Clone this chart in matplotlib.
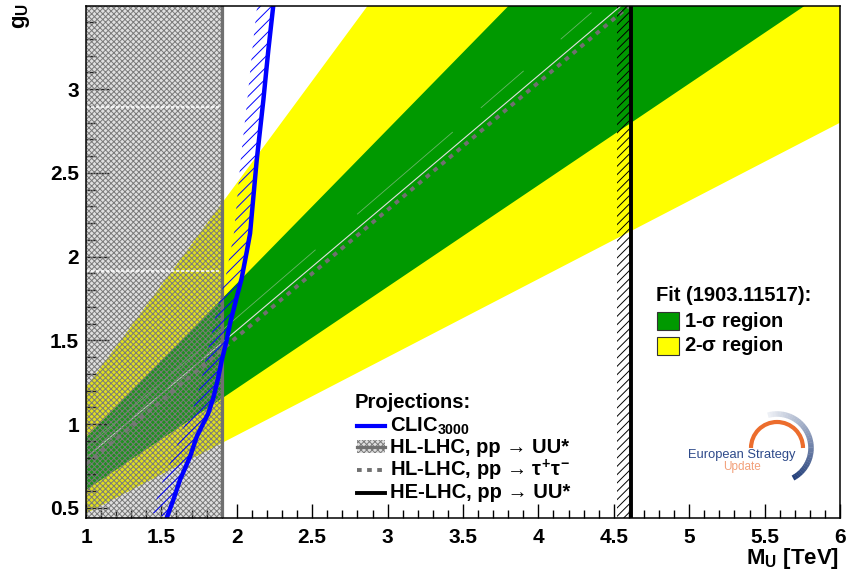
import matplotlib.pyplot as plt
import numpy as np
from matplotlib.patches import Rectangle, Polygon, Arc
from matplotlib.lines import Line2D
from matplotlib.ticker import MultipleLocator, FuncFormatter

plt.rcParams['font.family'] = ['Liberation Sans', 'DejaVu Sans']
plt.rcParams['font.weight'] = 'bold'
plt.rcParams['mathtext.fontset'] = 'custom'
plt.rcParams['mathtext.rm'] = 'Liberation Sans'
plt.rcParams['mathtext.it'] = 'Liberation Sans'
plt.rcParams['mathtext.bf'] = 'Liberation Sans:bold'
plt.rcParams['hatch.linewidth'] = 0.7

# fit bands (g_U at both ends of the mass range, straight lines)
mass_ends = [1.0, 6.0]
sigma2_low = [0.467, 2.80]
sigma1_low = [0.607, 3.64]
sigma1_high = [0.92, 5.52]
sigma2_high = [1.22, 7.32]

# HL-LHC pp -> tau tau projection
tautau_mass = [1.0, 6.0]
tautau_g = [0.76, 4.56]

# faint light lines inside the 1-sigma band
light_a_mass = [1.0, 4.55]
light_a_g = [0.80, 3.50]
light_b_segments = [(1.0, 0.86, 2.52, 2.04), (2.8, 2.255, 3.43, 2.743),
                    (3.62, 2.89, 3.9, 3.108), (4.15, 3.30, 4.35, 3.456)]

# CLIC 3000 reach
clic_mass = [1.535, 1.579, 1.623, 1.690, 1.734, 1.775, 1.811, 1.845, 1.875,
             1.900, 1.930, 1.955, 2.000, 2.032, 2.066, 2.088, 2.132, 2.176,
             2.209, 2.242]
clic_g = [0.44, 0.548, 0.667, 0.806, 0.925, 1.00, 1.065, 1.16, 1.27,
          1.38, 1.49, 1.60, 1.76, 1.87, 2.03, 2.139, 2.576, 2.934,
          3.233, 3.50]

hl_uu_limit = 1.90
he_uu_limit = 4.614
artifact_g = [2.895, 1.916]

W, H = 851, 585


def fx(px):
    return px / W


def fy(py):
    return 1 - py / H


fig = plt.figure(figsize=(W / 100, H / 100), dpi=100)
ax = fig.add_axes([fx(86), fy(518), (840 - 86) / W, (518 - 6) / H])
ax.set_xlim(1, 6)
ax.set_ylim(0.44, 3.497)

m = np.array(mass_ends)
ax.fill_between(m, sigma2_low, sigma2_high, color='#ffff00', lw=0, zorder=1)
ax.fill_between(m, sigma1_low, sigma1_high, color='#009900', lw=0, zorder=1.5)

ax.plot(light_a_mass, light_a_g, color='#e0e0e0', lw=0.8, zorder=2)
for m0, g0, m1, g1 in light_b_segments:
    ax.plot([m0, m1], [g0, g1], color='#d0d0d0', lw=0.6, alpha=0.5, zorder=2)

ax.plot(tautau_mass, tautau_g, color='#707070', lw=2.8,
        linestyle=(0, (1.2, 1.4)), zorder=3)

# HL-LHC UU* excluded region
gray_face = (0.5, 0.5, 0.5, 0.25)
ax.axvspan(1, hl_uu_limit, facecolor=gray_face, edgecolor='#7a7a7a',
           hatch='xxxxxx', lw=0, zorder=4)
ax.hlines(artifact_g, 1, hl_uu_limit - 0.02, colors='white', lw=1.2,
          linestyles=(0, (2, 1)), zorder=4.5)
ax.axvline(hl_uu_limit, color='#707070', lw=2.3, zorder=5)

# HE-LHC UU*
ax.axvspan(he_uu_limit - 0.093, he_uu_limit, facecolor='none',
           edgecolor='black', hatch='////', lw=0, zorder=5)
ax.axvline(he_uu_limit, color='black', lw=2.8, zorder=6)

# CLIC hatched side band
pts = ax.transData.transform(np.column_stack([clic_mass, clic_g]))
tang = np.gradient(pts, axis=0)
tang /= np.linalg.norm(tang, axis=1)[:, None]
normal = np.column_stack([-tang[:, 1], tang[:, 0]])
off = pts + normal * 16
poly = ax.transData.inverted().transform(np.vstack([pts, off[::-1]]))
ax.add_patch(Polygon(poly, closed=True, facecolor='none', edgecolor='#0000ff',
                     lw=0, hatch='///', zorder=7))
ax.plot(clic_mass, clic_g, color='#0000ff', lw=3.2, zorder=8)

# axes styling
fmt = FuncFormatter(lambda v, p: f'{v:g}')
ax.xaxis.set_major_locator(MultipleLocator(0.5))
ax.xaxis.set_minor_locator(MultipleLocator(0.1))
ax.yaxis.set_major_locator(MultipleLocator(0.5))
ax.yaxis.set_minor_locator(MultipleLocator(0.1))
ax.xaxis.set_major_formatter(fmt)
ax.yaxis.set_major_formatter(fmt)
ax.tick_params(which='both', direction='in', top=False, right=False,
               width=1, labelsize=15)
ax.tick_params(axis='x', which='major', length=10, pad=7)
ax.tick_params(axis='x', which='minor', length=5.5)
ax.tick_params(axis='y', which='major', length=16.5, pad=5)
ax.tick_params(axis='y', which='minor', length=7.5)
for s in ax.spines.values():
    s.set_linewidth(1.1)
    s.set_zorder(10)

fig.text(fx(22), fy(3), r'g$_\mathbf{U}$', rotation=90, ha='center',
         va='top', fontsize=16)
fig.text(fx(839), fy(546), r'M$_\mathbf{U}$ [TeV]', ha='right', va='top',
         fontsize=16)

# projections legend
lx0, lx1, tx = 357, 385, 390
fs = 14.5
fig.text(fx(355), fy(408), 'Projections:', fontsize=fs, va='baseline')
fig.add_artist(Line2D([fx(lx0), fx(lx1)], [fy(426), fy(426)],
                      color='#0000ff', lw=3, transform=fig.transFigure))
fig.text(fx(tx), fy(432), r'CLIC$_\mathbf{3000}$', fontsize=fs,
         va='baseline')
fig.add_artist(Rectangle((fx(lx0), fy(453)), (lx1 - lx0) / W, 13 / H,
                         facecolor=gray_face, edgecolor='#7a7a7a',
                         lw=0, hatch='xxxxxx', transform=fig.transFigure))
fig.add_artist(Line2D([fx(lx0), fx(lx1)], [fy(446.5), fy(446.5)],
                      color='#707070', lw=2.3, transform=fig.transFigure))
fig.text(fx(tx), fy(453), 'HL-LHC, pp \u2192 UU*', fontsize=fs,
         va='baseline')
fig.add_artist(Line2D([fx(lx0), fx(lx1)], [fy(470), fy(470)],
                      color='#707070', lw=2.8, linestyle=(0, (1.2, 1.4)),
                      transform=fig.transFigure))
fig.text(fx(tx), fy(476), 'HL-LHC, pp \u2192 $\\tau^{+}\\tau^{-}$',
         fontsize=fs, va='baseline')
fig.add_artist(Line2D([fx(lx0), fx(lx1)], [fy(493), fy(493)],
                      color='black', lw=2.8, transform=fig.transFigure))
fig.text(fx(tx), fy(498), 'HE-LHC, pp \u2192 UU*', fontsize=fs,
         va='baseline')

# fit legend
fig.text(fx(656), fy(301), 'Fit (1903.11517):', fontsize=fs, va='baseline')
fig.add_artist(Rectangle((fx(657), fy(330)), 22 / W, 18 / H,
                         facecolor='#009900', edgecolor='#333333', lw=0.8,
                         transform=fig.transFigure))
fig.add_artist(Rectangle((fx(657), fy(355)), 22 / W, 18 / H,
                         facecolor='#ffff00', edgecolor='#333333', lw=0.8,
                         transform=fig.transFigure))
fig.text(fx(684), fy(327), r'1-$\sigma$ region', fontsize=fs, va='baseline')
fig.text(fx(684), fy(351), r'2-$\sigma$ region', fontsize=fs, va='baseline')

# European Strategy Update logo
lax = fig.add_axes([fx(680), fy(490), 140 / W, 90 / H])
lax.set_xlim(0, 140)
lax.set_ylim(0, 90)
lax.axis('off')
cx, cy = 97, 42
lax.add_patch(Arc((cx, cy), 52, 52, theta1=0, theta2=180, color='#ec6d2d',
                  lw=3))
n = 40
angles = np.linspace(105, -62, n + 1)
c0 = np.array([0.93, 0.94, 0.96])
c1 = np.array([0.14, 0.25, 0.48])
for i in range(n):
    t = i / (n - 1)
    col = c0 * (1 - t) + c1 * t
    lax.add_patch(Arc((cx, cy), 68, 68, theta1=angles[i + 1],
                      theta2=angles[i] + 0.5, color=col, lw=4))
lax.text(62, 35, 'European Strategy', ha='center', va='center', fontsize=9.3,
         fontweight='normal', color='#2e4a8a')
lax.text(62, 23, 'Update', ha='center', va='center', fontsize=8.5,
         fontweight='normal', color='#f2a07a')

fig.savefig('out.png', dpi=100)
